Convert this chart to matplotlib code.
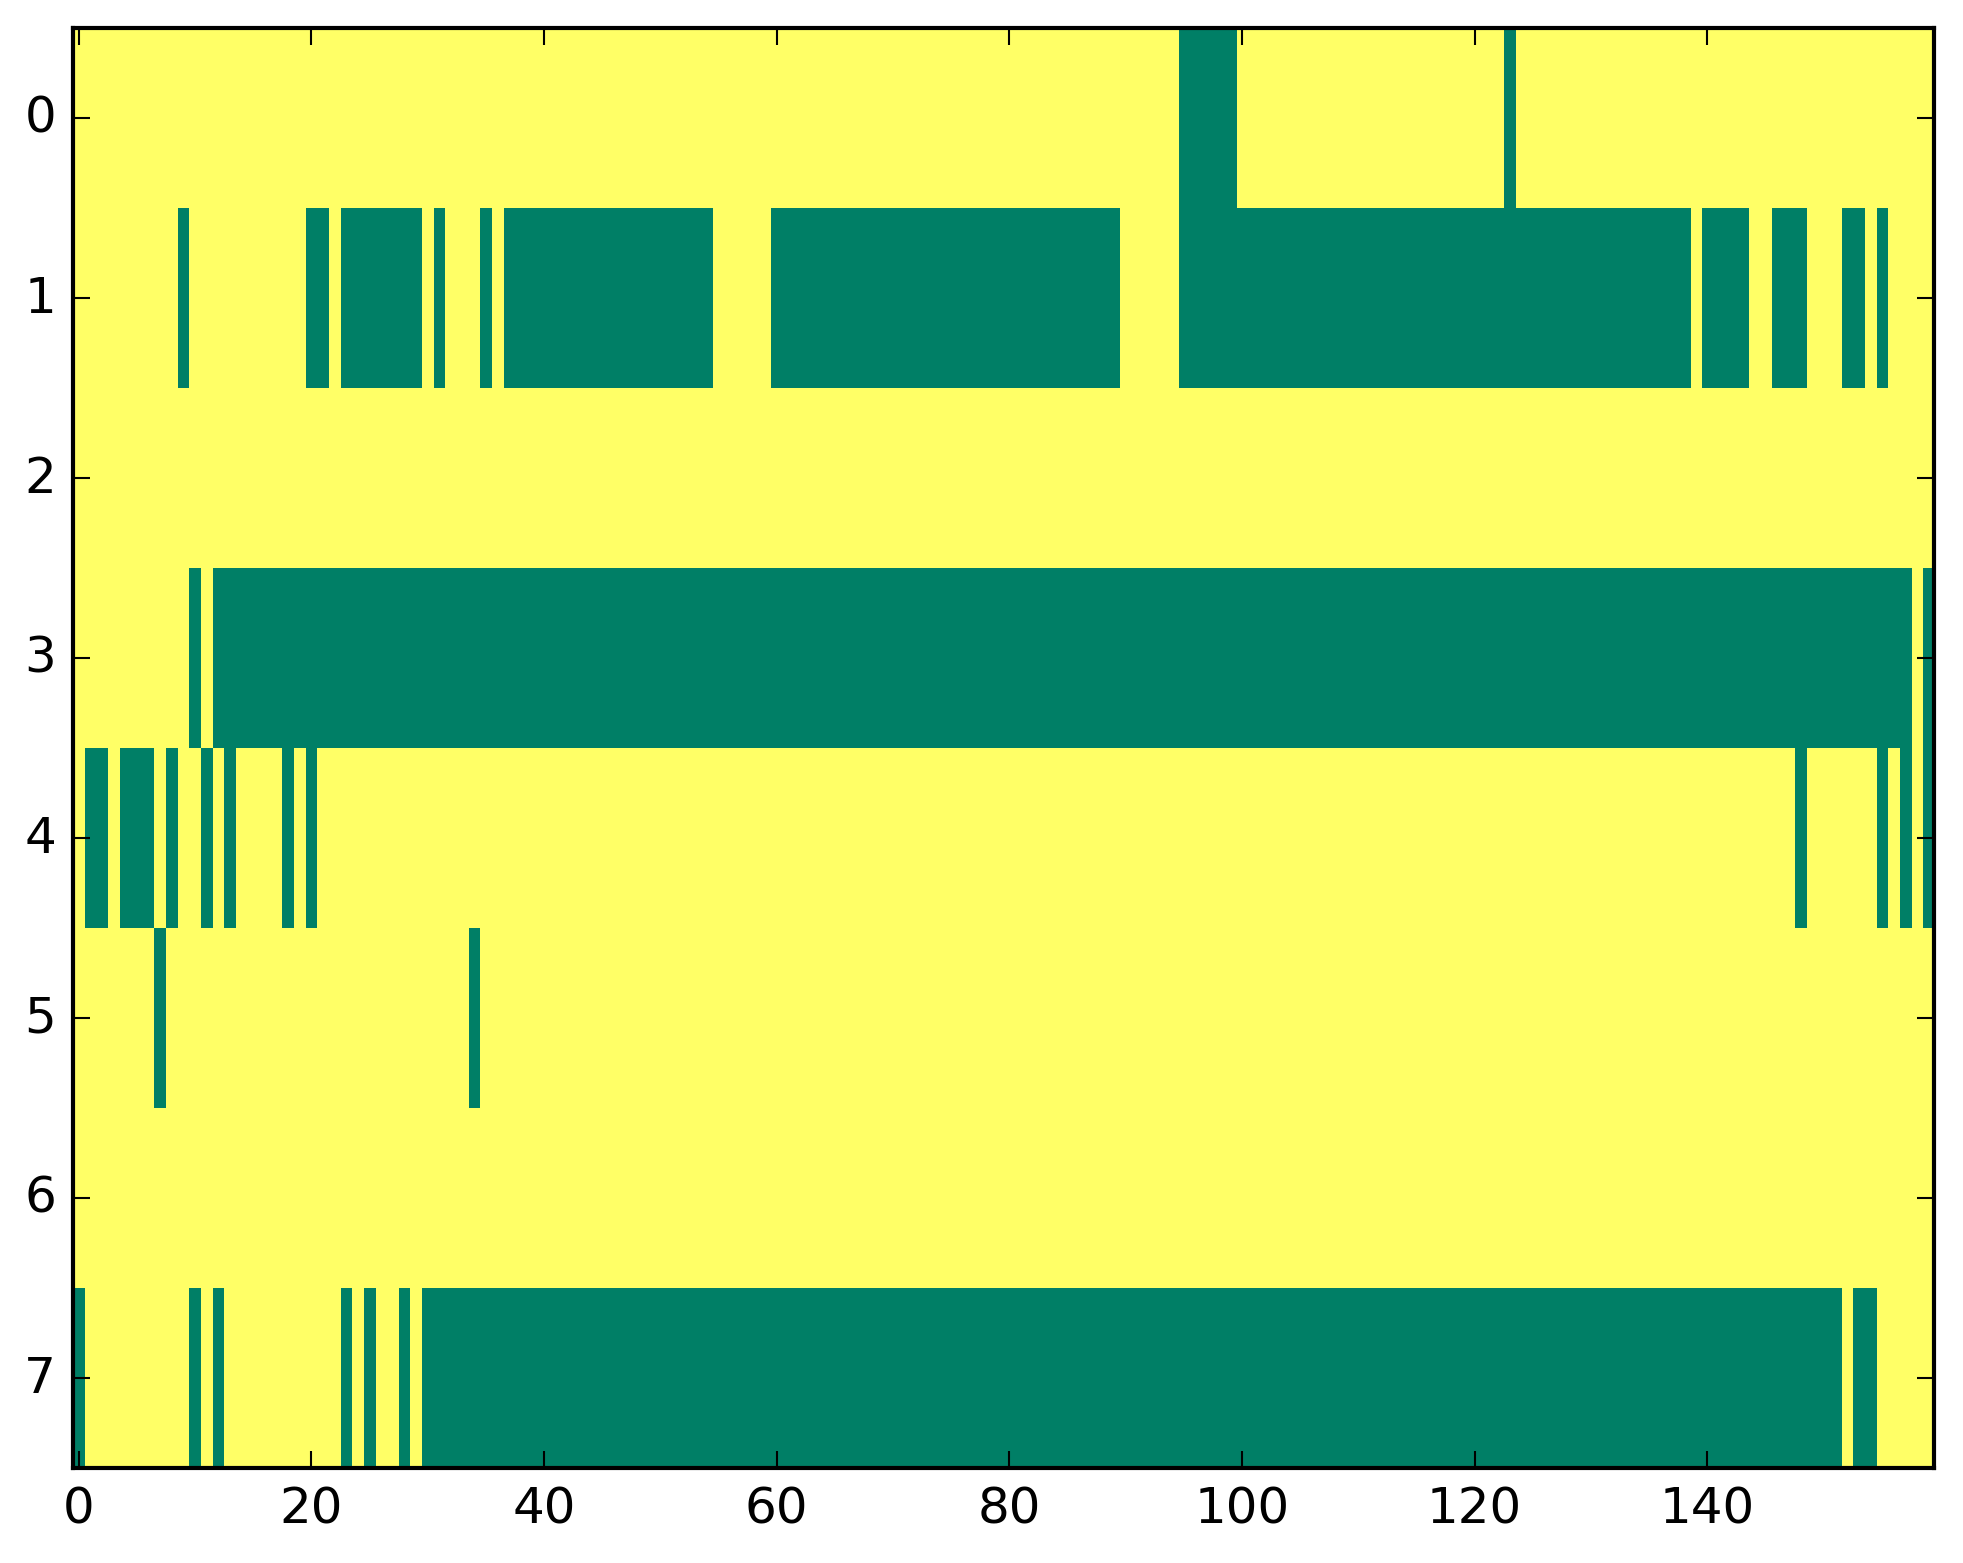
import numpy as np
import matplotlib
matplotlib.use("Agg")
import matplotlib.pyplot as plt

plt.style.use("classic")

n_rows = 8
n_cols = 160

# Green (value 0) cells per row, as inclusive column ranges; the rest is 1 (yellow)
row0 = [(95, 99), (123, 123)]
row1 = [(9, 9), (20, 21), (23, 29), (31, 31), (35, 35), (37, 54), (60, 89),
        (95, 138), (140, 143), (146, 148), (152, 153), (155, 155)]
row2 = []
row3 = [(10, 10), (12, 157), (159, 159)]
row4 = [(1, 2), (4, 6), (8, 8), (11, 11), (13, 13), (18, 18), (20, 20),
        (148, 148), (155, 155), (157, 157), (159, 159)]
row5 = [(7, 7), (34, 34)]
row6 = []
row7 = [(0, 0), (10, 10), (12, 12), (23, 23), (25, 25), (28, 28), (30, 151),
        (153, 154)]

rows = [row0, row1, row2, row3, row4, row5, row6, row7]
xticks = [0, 20, 40, 60, 80, 100, 120, 140]
yticks = list(range(n_rows))

data = np.ones((n_rows, n_cols))
for r, segs in enumerate(rows):
    for a, b in segs:
        data[r, a:b + 1] = 0

fig = plt.figure(figsize=(1963 / 300, 1564 / 300), dpi=300, facecolor="white")
ax = fig.add_axes([72.8 / 1963, 1 - 1468.7 / 1564, (1934 - 72.8) / 1963, 1440 / 1564])
ax.imshow(data, cmap="summer", aspect="auto", interpolation="nearest",
          vmin=0, vmax=1)
ax.set_xticks(xticks)
ax.set_yticks(yticks)
ax.set_xlim(-0.5, n_cols - 0.5)
ax.set_ylim(n_rows - 0.5, -0.5)
ax.tick_params(labelsize=12)

fig.savefig("out.png", dpi=300, facecolor="white")
